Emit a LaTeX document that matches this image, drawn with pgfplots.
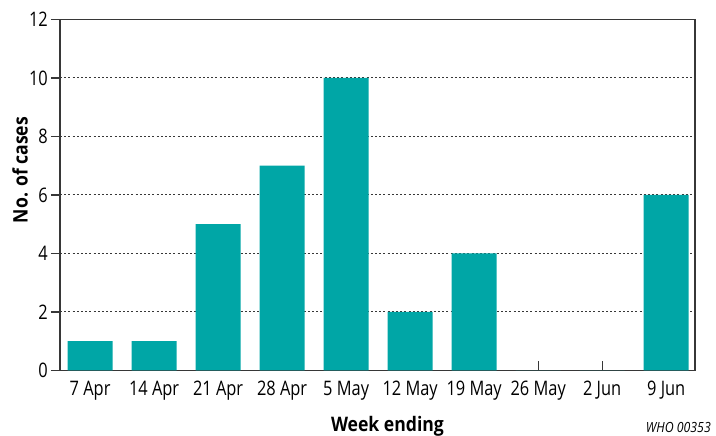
\documentclass[border=0pt]{standalone}
\usepackage{fontspec}
\setmainfont{Open Sans}[FakeStretch=0.88]
\newfontfamily\tickfont{Open Sans}[FakeStretch=0.82]
\usepackage{pgfplots}
\pgfplotsset{compat=1.18}
\definecolor{barteal}{RGB}{0,166,166}
\definecolor{axisgray}{RGB}{55,55,55}
\begin{document}
\begin{tikzpicture}
\path[use as bounding box] (0,0) rectangle (716pt,436pt);
\begin{axis}[
  /pgf/number format/assume math mode=true,
  at={(60pt,65.5pt)}, anchor=south west,
  scale only axis, width=635pt, height=351pt,
  xmin=-0.47, xmax=9.45, ymin=0, ymax=12,
  ytick={0,2,...,12},
  xtick={0,...,9},
  xticklabels={7 Apr,14 Apr,21 Apr,28 Apr,5 May,12 May,19 May,26 May,2 Jun,9 Jun},
  ybar, bar width=45pt,
  axis line style={draw=axisgray, line width=1.4pt},
  tick align=inside,
  xtick pos=bottom, ytick pos=left,
  major tick length=9pt,
  tick style={draw=axisgray, line width=1.2pt},
  y tick style={xshift=-9pt},
  ymajorgrids,
  grid style={draw=axisgray, line width=1pt, dash pattern=on 2pt off 2.2pt},
  tick label style={font=\tickfont\fontsize{20}{24}\selectfont},
  yticklabel style={anchor=east, inner sep=0pt, xshift=-12pt},
  xticklabel style={anchor=base, inner sep=0pt, yshift=-25.5pt},
  xlabel={Week ending},
  ylabel={No. of cases},
  label style={font=\bfseries\fontsize{20}{24}\selectfont},
  xlabel style={at={(axis description cs:0.5157,-0.1744)}, anchor=base, inner sep=0pt},
  ylabel style={at={(axis description cs:-0.063,0.571)}, anchor=center, inner sep=0pt},
]
\addplot[fill=barteal, draw=none] coordinates {
  (0,1) (1,1) (2,5) (3,7) (4,10) (5,2) (6,4) (7,0) (8,0) (9,6)
};
\end{axis}
\node[anchor=base east, inner sep=0pt, font=\itshape\fontsize{14}{16}\selectfont] at (711pt,3pt) {WHO 00353};
\end{tikzpicture}
\end{document}
